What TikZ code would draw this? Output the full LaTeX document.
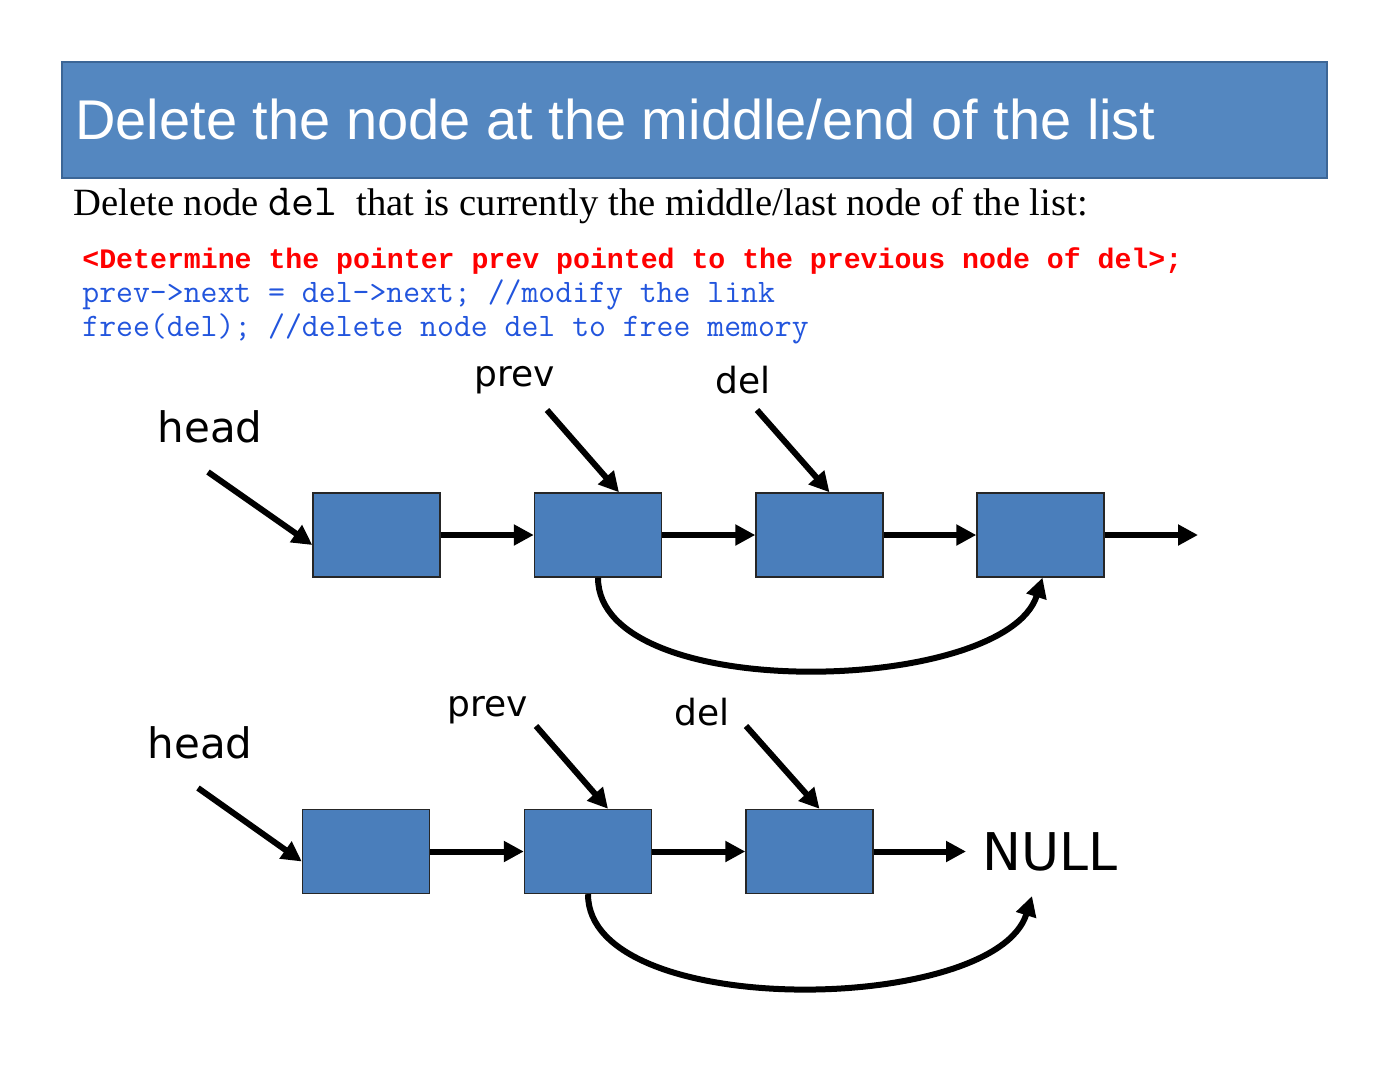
\documentclass[tikz,border=0pt]{standalone}
\usepackage{fontspec}
\setmainfont{Liberation Serif}
\setsansfont{Liberation Sans}
\newfontfamily\verd{DejaVu Sans}
\newfontfamily\boldmono{Liberation Mono}
\usetikzlibrary{arrows.meta}
\definecolor{barblue}{HTML}{5487C0}
\definecolor{barline}{HTML}{3C6696}
\definecolor{boxblue}{HTML}{4A7EBB}
\definecolor{codeblue}{HTML}{2255DD}
\definecolor{codered}{HTML}{FF0000}
\tikzset{
  listbox/.style={draw=black!85, line width=0.7pt, fill=boxblue, minimum width=63.5pt, minimum height=42pt, inner sep=0pt},
  arr/.style={line width=3pt, -{Triangle[length=10pt,width=10pt]}},
  lbl/.style={font=\verd\fontsize{18}{20}\selectfont, inner sep=0pt},
  headlbl/.style={font=\verd\fontsize{21}{24}\selectfont, inner sep=0pt},
  codeline/.style={anchor=base west, inner sep=0pt, text=codeblue, font=\ttfamily\fontsize{16.4}{18}\selectfont},
}
\begin{document}
\begin{tikzpicture}[x=0.5pt,y=-0.5pt]
\useasboundingbox (0,0) rectangle (1386,1070);
% title bar
\node[draw=barline, line width=1pt, fill=barblue, anchor=north west, minimum width=632.5pt, minimum height=58pt, inner sep=0pt] (bar) at (61,61) {};
\node[anchor=base west, inner sep=0pt, text=white, font=\sffamily\fontsize{28}{32}\selectfont] (title) at (75,140) {Delete the node at the middle/end of the list};
% body text
\node[anchor=base west, inner sep=0pt, font=\fontsize{19.3}{22}\selectfont] (body) at (73,215) {Delete node {\ttfamily\fontsize{22.3}{24}\selectfont del}\ \ that is currently the middle/last node of the list:};
\node[anchor=base west, inner sep=0pt, text=codered, font=\boldmono\bfseries\fontsize{14.1}{16}\selectfont] (c1) at (82,268) {<Determine the pointer prev pointed to the previous node of del>;};
\node[codeline] (c2) at (82,302) {prev->next = del->next; //modify the link};
\node[codeline] (c3) at (82,336) {free(del); //delete node del to free memory};

% diagram 1
\node[listbox] (a1) at (376.5,535) {};
\node[listbox] (a2) at (598,535) {};
\node[listbox] (a3) at (819.5,535) {};
\node[listbox] (a4) at (1040.5,535) {};
\coordinate (aend) at (1198,535);
\node[headlbl] (ah) at (210,427) {head};
\node[lbl] (ap) at (515,380) {prev};
\node[lbl] (ad) at (743,380) {del};
\coordinate (ahs) at (208,472);
\coordinate (aps) at (547,410);
\coordinate (ads) at (757,410);
\draw[arr] (a1) -- (a2);
\draw[arr] (a2) -- (a3);
\draw[arr] (a3) -- (a4);
\draw[arr] (a4) -- (aend);
\draw[arr] (ahs) -- ([yshift=-5pt]a1.west);
\draw[arr] (aps) -- ([xshift=10.5pt]a2.north);
\draw[arr] (ads) -- ([xshift=5pt]a3.north);
\draw[arr] (a2.south) .. controls (598,705) and (1005,695) .. ([xshift=1pt]a4.south);

% diagram 2
\node[listbox] (b1) at (366,851.5) {};
\node[listbox] (b2) at (588,851.5) {};
\node[listbox] (b3) at (809.5,851.5) {};
\node[inner sep=0pt, font=\verd\fontsize{26}{30}\selectfont] (null) at (1050,851.5) {NULL};
\coordinate (nullin) at (966,851.5);
\node[headlbl] (bh) at (200,743) {head};
\node[lbl] (bp) at (488,710) {prev};
\node[lbl] (bd) at (702,712) {del};
\coordinate (bhs) at (198,788);
\coordinate (bps) at (536,726);
\coordinate (bds) at (746,726);
\coordinate (bnt) at (1032,896);
\draw[arr] (b1) -- (b2);
\draw[arr] (b2) -- (b3);
\draw[arr] (b3.east) -- (nullin);
\draw[arr] (bhs) -- ([yshift=-5pt]b1.west);
\draw[arr] (bps) -- ([xshift=10pt]b2.north);
\draw[arr] (bds) -- ([xshift=5pt]b3.north);
\draw[arr] (b2.south) .. controls (588,1021) and (995,1015) .. (bnt);
\end{tikzpicture}
\end{document}
